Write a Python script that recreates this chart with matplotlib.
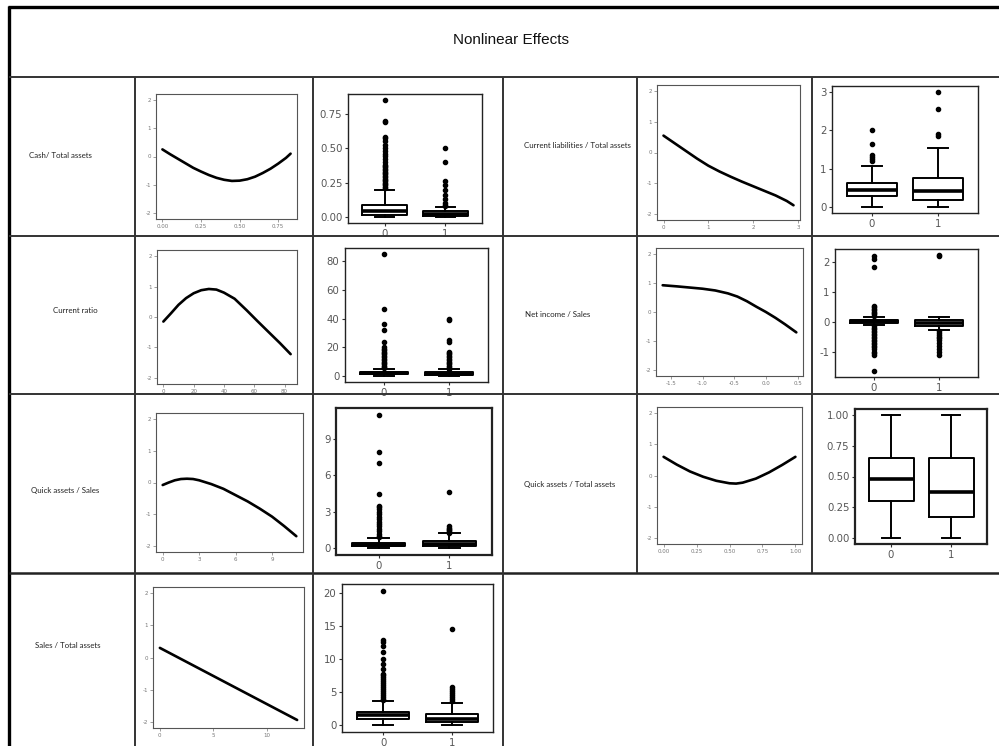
import numpy as np
import matplotlib.pyplot as plt
from matplotlib.lines import Line2D

W, H = 999, 746

# ---- partial effect curves ----
cash_x = [0.0, 0.05, 0.1, 0.15, 0.2, 0.25, 0.3, 0.35, 0.4, 0.45, 0.5, 0.55, 0.6, 0.65, 0.7, 0.75, 0.8, 0.83]
cash_y = [0.25, 0.08, -0.08, -0.24, -0.4, -0.53, -0.65, -0.75, -0.82, -0.86, -0.85, -0.8, -0.71, -0.58, -0.43, -0.25, -0.05, 0.1]

cr_x = [0, 5, 10, 15, 20, 25, 30, 35, 40, 47, 55, 62, 70, 77, 84]
cr_y = [-0.15, 0.12, 0.4, 0.62, 0.78, 0.88, 0.92, 0.9, 0.8, 0.6, 0.22, -0.13, -0.52, -0.86, -1.22]

qs_x = [0, 0.5, 1, 1.5, 2, 2.5, 3, 4, 5, 6, 7, 8, 9, 10, 11]
qs_y = [-0.08, 0.0, 0.07, 0.11, 0.12, 0.11, 0.07, -0.05, -0.2, -0.4, -0.6, -0.83, -1.08, -1.38, -1.7]

sta_x = [0, 12.8]
sta_y = [0.3, -1.95]

cl_x = [0, 0.25, 0.5, 0.75, 1.0, 1.25, 1.5, 1.75, 2.0, 2.25, 2.5, 2.75, 2.9]
cl_y = [0.55, 0.3, 0.05, -0.2, -0.43, -0.62, -0.79, -0.95, -1.1, -1.25, -1.4, -1.58, -1.72]

ni_x = [-1.63, -1.4, -1.2, -1.0, -0.8, -0.6, -0.45, -0.3, -0.15, 0.0, 0.15, 0.3, 0.48]
ni_y = [0.92, 0.88, 0.84, 0.8, 0.74, 0.64, 0.53, 0.37, 0.18, 0.0, -0.2, -0.42, -0.7]

qta_x = [0.0, 0.1, 0.2, 0.3, 0.4, 0.5, 0.55, 0.6, 0.7, 0.8, 0.9, 1.0]
qta_y = [0.6, 0.35, 0.13, -0.04, -0.17, -0.25, -0.26, -0.23, -0.1, 0.1, 0.34, 0.6]

# ---- box plot summaries per group (0 / 1): q1, median, q3 and whiskers ----
cash_q = [[0.015, 0.045, 0.09], [0.005, 0.02, 0.045]]
cash_w = [[0.0, 0.2], [0.0, 0.07]]
cash_out0 = [0.21, 0.22, 0.23, 0.24, 0.25, 0.26, 0.27, 0.28, 0.29, 0.3, 0.31, 0.32, 0.33, 0.34, 0.35,
             0.36, 0.37, 0.38, 0.4, 0.42, 0.44, 0.46, 0.48, 0.5, 0.52, 0.55, 0.57, 0.58, 0.69, 0.7, 0.85]
cash_out1 = [0.08, 0.09, 0.1, 0.13, 0.16, 0.2, 0.23, 0.26, 0.4, 0.5]

cr_q = [[1.0, 2.0, 3.0], [0.8, 1.5, 2.5]]
cr_w = [[0.0, 5.0], [0.0, 4.5]]
cr_out0 = [5.5, 6, 7, 8, 9, 10, 11, 12, 13, 14, 15, 16, 17, 18, 19, 20, 24, 32, 36, 47, 85]
cr_out1 = [5, 6, 7, 8, 9, 10, 11, 12, 13, 14, 15, 16, 17, 24, 25, 39, 40]

qs_q = [[0.15, 0.3, 0.45], [0.15, 0.35, 0.6]]
qs_w = [[0.0, 0.85], [0.0, 1.25]]
qs_out0 = [0.9, 1.0, 1.2, 1.4, 1.6, 1.8, 2.0, 2.2, 2.4, 2.6, 2.8, 3.0, 3.2, 3.4, 3.5, 4.5, 7.0, 7.9, 11.0]
qs_out1 = [1.3, 1.4, 1.5, 1.6, 1.7, 1.8, 4.6]

sta_q = [[1.0, 1.5, 2.0], [0.5, 1.0, 1.7]]
sta_w = [[0.0, 3.6], [0.0, 3.4]]
sta_out0 = [3.8, 4.0, 4.3, 4.6, 4.9, 5.2, 5.5, 5.8, 6.1, 6.4, 6.7, 7.0, 7.3, 7.6, 7.8,
            8.5, 9.2, 10.0, 11.0, 12.0, 12.5, 12.8, 20.3]
sta_out1 = [3.6, 3.9, 4.2, 4.5, 4.8, 5.1, 5.4, 5.7, 14.5]

cl_q = [[0.28, 0.44, 0.62], [0.2, 0.43, 0.75]]
cl_w = [[0.0, 1.08], [0.0, 1.54]]
cl_out0 = [1.2, 1.25, 1.3, 1.35, 1.65, 2.0]
cl_out1 = [1.85, 1.9, 2.55, 3.0]

ni_q = [[-0.03, 0.02, 0.07], [-0.15, -0.05, 0.07]]
ni_w = [[-0.1, 0.15], [-0.27, 0.18]]
ni_out0 = [0.2, 0.25, 0.3, 0.35, 0.4, 0.45, 0.5, 0.55, -0.15, -0.2, -0.25, -0.3, -0.35, -0.4, -0.45,
           -0.5, -0.55, -0.6, -0.65, -0.7, -0.75, -0.8, -0.85, -0.9, -1.0, -1.05, -1.1, -1.65, 1.85, 2.1, 2.2]
ni_out1 = [-0.32, -0.38, -0.45, -0.5, -0.55, -0.62, -0.7, -0.8, -0.9, -1.0, -1.1, 2.2, 2.25]

qta_q = [[0.3, 0.48, 0.65], [0.17, 0.37, 0.65]]
qta_w = [[0.0, 1.0], [0.0, 1.0]]
qta_out0 = []
qta_out1 = []

# ---- row labels ----
left_labels = ['Cash/ Total assets', 'Current ratio', 'Quick assets / Sales', 'Sales / Total assets']
right_labels = ['Current liabilities / Total assets', 'Net income / Sales', 'Quick assets / Total assets']

fig = plt.figure(figsize=(W / 100, H / 100), dpi=100)
fig.patch.set_facecolor('white')


def box_px(l, t, r, b):
    return [l / W, 1 - b / H, (r - l) / W, (b - t) / H]


def hline(y, x0, x1, lw=1.4, c='#333333'):
    fig.add_artist(Line2D([x0 / W, x1 / W], [1 - y / H, 1 - y / H], transform=fig.transFigure,
                          lw=lw, color=c, solid_capstyle='butt'))


def vline(x, y0, y1, lw=1.4, c='#333333'):
    fig.add_artist(Line2D([x / W, x / W], [1 - y0 / H, 1 - y1 / H], transform=fig.transFigure,
                          lw=lw, color=c, solid_capstyle='butt'))


# table grid
hline(7, 8, 999, lw=2.4, c='black')
vline(9, 6, 746, lw=2.4, c='black')
hline(77, 9, 999)
hline(236, 9, 999)
hline(394, 9, 999)
hline(573, 9, 999, lw=1.8, c='#222222')
for xv in [135, 313, 503]:
    vline(xv, 77, 746)
for xv in [637, 812]:
    vline(xv, 77, 573)

fig.text(511 / W, 1 - 40 / H, 'Nonlinear Effects', ha='center', va='center', fontsize=11,
         family='Liberation Sans', color='#111111')

for lab, (xc, yc) in zip(left_labels, [(60, 156), (75, 310), (65, 490), (68, 645)]):
    fig.text(xc / W, 1 - yc / H, lab, ha='center', va='center', fontsize=5.7, family='Lato', color='#222222')
for lab, (xc, yc) in zip(right_labels, [(577, 146), (558, 315), (570, 484)]):
    fig.text(xc / W, 1 - yc / H, lab, ha='center', va='center', fontsize=5.7, family='Lato', color='#222222')


def line_panel(px, xs, ys, xticks, xlabels):
    ax = fig.add_axes(box_px(*px))
    ax.plot(xs, ys, color='black', lw=1.9, solid_capstyle='round')
    span = max(xs) - min(xs)
    ax.set_xlim(min(xs) - 0.05 * span, max(xs) + 0.05 * span)
    ax.set_ylim(-2.2, 2.2)
    ax.set_yticks([-2, -1, 0, 1, 2])
    ax.set_yticklabels(['-2', '-1', '0', '1', '2'])
    ax.set_xticks(xticks)
    ax.set_xticklabels(xlabels)
    ax.tick_params(labelsize=4, colors='#777777', length=2, width=0.5, pad=1.5)
    for s in ax.spines.values():
        s.set_color('#555555')
        s.set_linewidth(0.8)
    return ax


def box_panel(px, q, w, out0, out1, yticks, ylabels, frame_lw=1.0):
    ax = fig.add_axes(box_px(*px))
    stats = []
    for i, fl in enumerate([out0, out1]):
        stats.append(dict(q1=q[i][0], med=q[i][1], q3=q[i][2], whislo=w[i][0], whishi=w[i][1],
                          fliers=fl, label=str(i)))
    ax.bxp(stats, positions=[0, 1], widths=0.75, capwidths=0.3,
           boxprops=dict(color='black', lw=1.4),
           medianprops=dict(color='black', lw=2.6),
           whiskerprops=dict(color='black', lw=1.4),
           capprops=dict(color='black', lw=1.4),
           flierprops=dict(marker='o', markerfacecolor='black', markeredgecolor='black', markersize=3.0))
    vals = [v for i in range(2) for v in (w[i] + out0 + out1)]
    lo, hi = min(vals), max(vals)
    pad = 0.05 * (hi - lo)
    ax.set_ylim(lo - pad, hi + pad)
    ax.set_xlim(-0.6, 1.6)
    ax.set_xticks([0, 1])
    ax.set_xticklabels(['0', '1'])
    ax.set_yticks(yticks)
    ax.set_yticklabels(ylabels)
    ax.tick_params(labelsize=7.3, colors='#333333', labelcolor='#555555', length=2.5, width=0.8, pad=1.5)
    for s in ax.spines.values():
        s.set_color('#222222')
        s.set_linewidth(frame_lw)
    return ax


# left half
line_panel((156, 94, 297, 219), cash_x, cash_y, [0, 0.25, 0.5, 0.75], ['0.00', '0.25', '0.50', '0.75'])
line_panel((157, 250, 297, 384), cr_x, cr_y, [0, 20, 40, 60, 80], ['0', '20', '40', '60', '80'])
line_panel((156, 413, 303, 552), qs_x, qs_y, [0, 3, 6, 9], ['0', '3', '6', '9'])
line_panel((153, 587, 304, 728), sta_x, sta_y, [0, 5, 10], ['0', '5', '10'])

box_panel((348, 94, 482, 223), cash_q, cash_w, cash_out0, cash_out1,
          [0, 0.25, 0.5, 0.75], ['0.00', '0.25', '0.50', '0.75'])
box_panel((345, 248, 488, 382), cr_q, cr_w, cr_out0, cr_out1,
          [0, 20, 40, 60, 80], ['0', '20', '40', '60', '80'])
box_panel((336, 408, 492, 555), qs_q, qs_w, qs_out0, qs_out1,
          [0, 3, 6, 9], ['0', '3', '6', '9'], frame_lw=1.6)
box_panel((342, 584, 493, 732), sta_q, sta_w, sta_out0, sta_out1,
          [0, 5, 10, 15, 20], ['0', '5', '10', '15', '20'])

# right half
line_panel((657, 85, 800, 220), cl_x, cl_y, [0, 1, 2, 3], ['0', '1', '2', '3'])
line_panel((656, 248, 803, 376), ni_x, ni_y, [-1.5, -1.0, -0.5, 0.0, 0.5], ['-1.5', '-1.0', '-0.5', '0.0', '0.5'])
line_panel((657, 407, 802, 544), qta_x, qta_y, [0, 0.25, 0.5, 0.75, 1.0], ['0.00', '0.25', '0.50', '0.75', '1.00'])

box_panel((832, 86, 978, 213), cl_q, cl_w, cl_out0, cl_out1, [0, 1, 2, 3], ['0', '1', '2', '3'])
box_panel((835, 249, 978, 377), ni_q, ni_w, ni_out0, ni_out1, [-1, 0, 1, 2], ['-1', '0', '1', '2'])
box_panel((855, 409, 987, 544), qta_q, qta_w, qta_out0, qta_out1,
          [0, 0.25, 0.5, 0.75, 1.0], ['0.00', '0.25', '0.50', '0.75', '1.00'], frame_lw=1.6)

fig.savefig('out.png', dpi=100)
